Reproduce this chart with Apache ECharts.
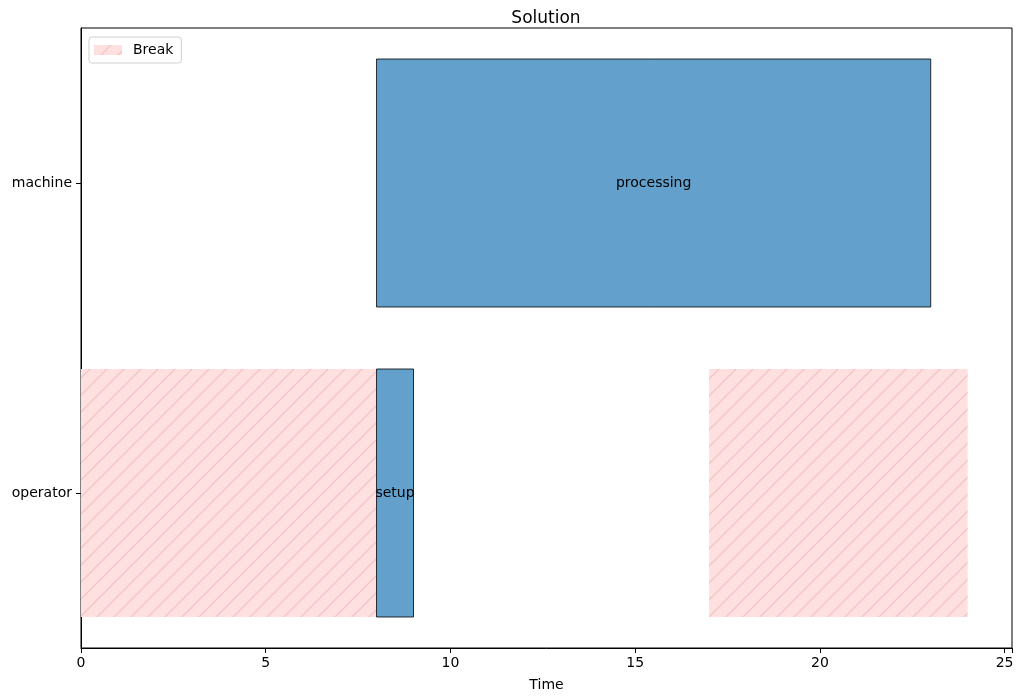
<!DOCTYPE html>
<html>
<head>
<meta charset="utf-8">
<script src="https://cdn.jsdelivr.net/npm/echarts@6/dist/echarts.min.js"></script>
<style>
  html, body { margin: 0; padding: 0; background: #fff; }
  #main { width: 1023px; height: 700px; }
</style>
</head>
<body>
<div id="main"></div>
<script>
// resources (y categories, top to bottom)
var resources = ['machine', 'operator'];

// tasks
var taskNames = ['processing', 'setup'];
var taskResource = [0, 1];
var taskStart = [8, 8];
var taskEnd = [23, 9];

// breaks
var breakResource = [1, 1];
var breakStart = [0, 17];
var breakEnd = [8, 24];

var xTicks = [0, 5, 10, 15, 20, 25];

// hatch tile like matplotlib '/'
function makeHatch() {
  var s = 17;
  var c = document.createElement('canvas');
  c.width = s; c.height = s;
  var ctx = c.getContext('2d');
  ctx.fillStyle = '#ffe0e0';
  ctx.fillRect(0, 0, s, s);
  ctx.strokeStyle = 'rgba(238,180,180,0.6)';
  ctx.lineWidth = 1.5;
  ctx.beginPath();
  ctx.moveTo(-2, s + 2); ctx.lineTo(s + 2, -2);
  ctx.moveTo(-2, 2); ctx.lineTo(2, -2);
  ctx.moveTo(s - 2, s + 2); ctx.lineTo(s + 2, s - 2);
  ctx.stroke();
  return c;
}
var hatch = { image: makeHatch(), repeat: 'repeat' };

var taskData = [];
for (var i = 0; i < taskNames.length; i++) {
  taskData.push({ name: taskNames[i], value: [taskStart[i], taskEnd[i], taskResource[i]] });
}
var breakData = [];
for (var j = 0; j < breakStart.length; j++) {
  breakData.push({ value: [breakStart[j], breakEnd[j], breakResource[j]] });
}

function rectOf(params, api) {
  var p0 = api.coord([api.value(0), api.value(2)]);
  var p1 = api.coord([api.value(1), api.value(2)]);
  var h = api.size([0, 1])[1] * 0.8;
  return echarts.graphic.clipRectByRect({
    x: p0[0], y: p0[1] - h / 2, width: p1[0] - p0[0], height: h
  }, {
    x: params.coordSys.x, y: params.coordSys.y,
    width: params.coordSys.width, height: params.coordSys.height
  });
}

var chart = echarts.init(document.getElementById('main'));
chart.setOption({
  animation: false,
  textStyle: { fontFamily: 'DejaVu Sans' },
  title: {
    text: 'Solution',
    left: 541,
    textAlign: 'center',
    top: 5,
    textStyle: { fontSize: 17, fontWeight: 'normal', color: '#000', fontFamily: 'DejaVu Sans' }
  },
  legend: {
    data: ['Break'],
    left: 89,
    top: 37,
    orient: 'vertical',
    icon: 'rect',
    itemWidth: 28,
    itemHeight: 10,
    padding: [6, 8, 6, 5],
    borderColor: '#d0d0d0',
    borderWidth: 1,
    borderRadius: 3,
    backgroundColor: '#fff',
    textStyle: { fontSize: 14, color: '#000', fontFamily: 'DejaVu Sans', padding: [0, 0, 0, 6] }
  },
  grid: { left: 81, right: 11, top: 28, bottom: 52, show: true, borderColor: '#000', borderWidth: 1 },
  xAxis: {
    type: 'value',
    min: 0,
    max: 25.2,
    interval: 5,
    name: 'Time',
    nameLocation: 'middle',
    nameGap: 30,
    nameTextStyle: { fontSize: 14, color: '#000' },
    splitLine: { show: false },
    axisLine: { show: true, lineStyle: { color: '#000' } },
    axisTick: { show: true, length: 5, lineStyle: { color: '#000' } },
    axisLabel: {
      fontSize: 14, color: '#000', margin: 8,
      formatter: function (v) { return xTicks.indexOf(v) >= 0 ? String(v) : ''; }
    }
  },
  yAxis: {
    type: 'category',
    data: resources,
    inverse: true,
    axisLine: { show: true, lineStyle: { color: '#000' } },
    axisTick: { show: true, alignWithLabel: true, length: 5, lineStyle: { color: '#000' } },
    axisLabel: { fontSize: 14, color: '#000', margin: 9 },
    splitLine: { show: false }
  },
  series: [
    {
      name: 'Break',
      type: 'custom',
      itemStyle: { color: hatch },
      encode: { x: [0, 1], y: 2 },
      data: breakData,
      renderItem: function (params, api) {
        var r = rectOf(params, api);
        return r && { type: 'rect', shape: r, style: { fill: hatch } };
      }
    },
    {
      name: 'Tasks',
      type: 'custom',
      encode: { x: [0, 1], y: 2 },
      data: taskData,
      renderItem: function (params, api) {
        var r = rectOf(params, api);
        if (!r) return;
        return {
          type: 'group',
          children: [
            { type: 'rect', shape: r, style: { fill: 'rgb(99,161,204)', stroke: 'rgba(0,0,0,0.8)', lineWidth: 1 } },
            {
              type: 'text',
              style: {
                text: taskNames[params.dataIndex],
                x: r.x + r.width / 2,
                y: r.y + r.height / 2,
                align: 'center',
                verticalAlign: 'middle',
                fontSize: 14,
                fontFamily: 'DejaVu Sans',
                fill: '#000'
              }
            }
          ]
        };
      }
    }
  ]
});
</script>
</body>
</html>
